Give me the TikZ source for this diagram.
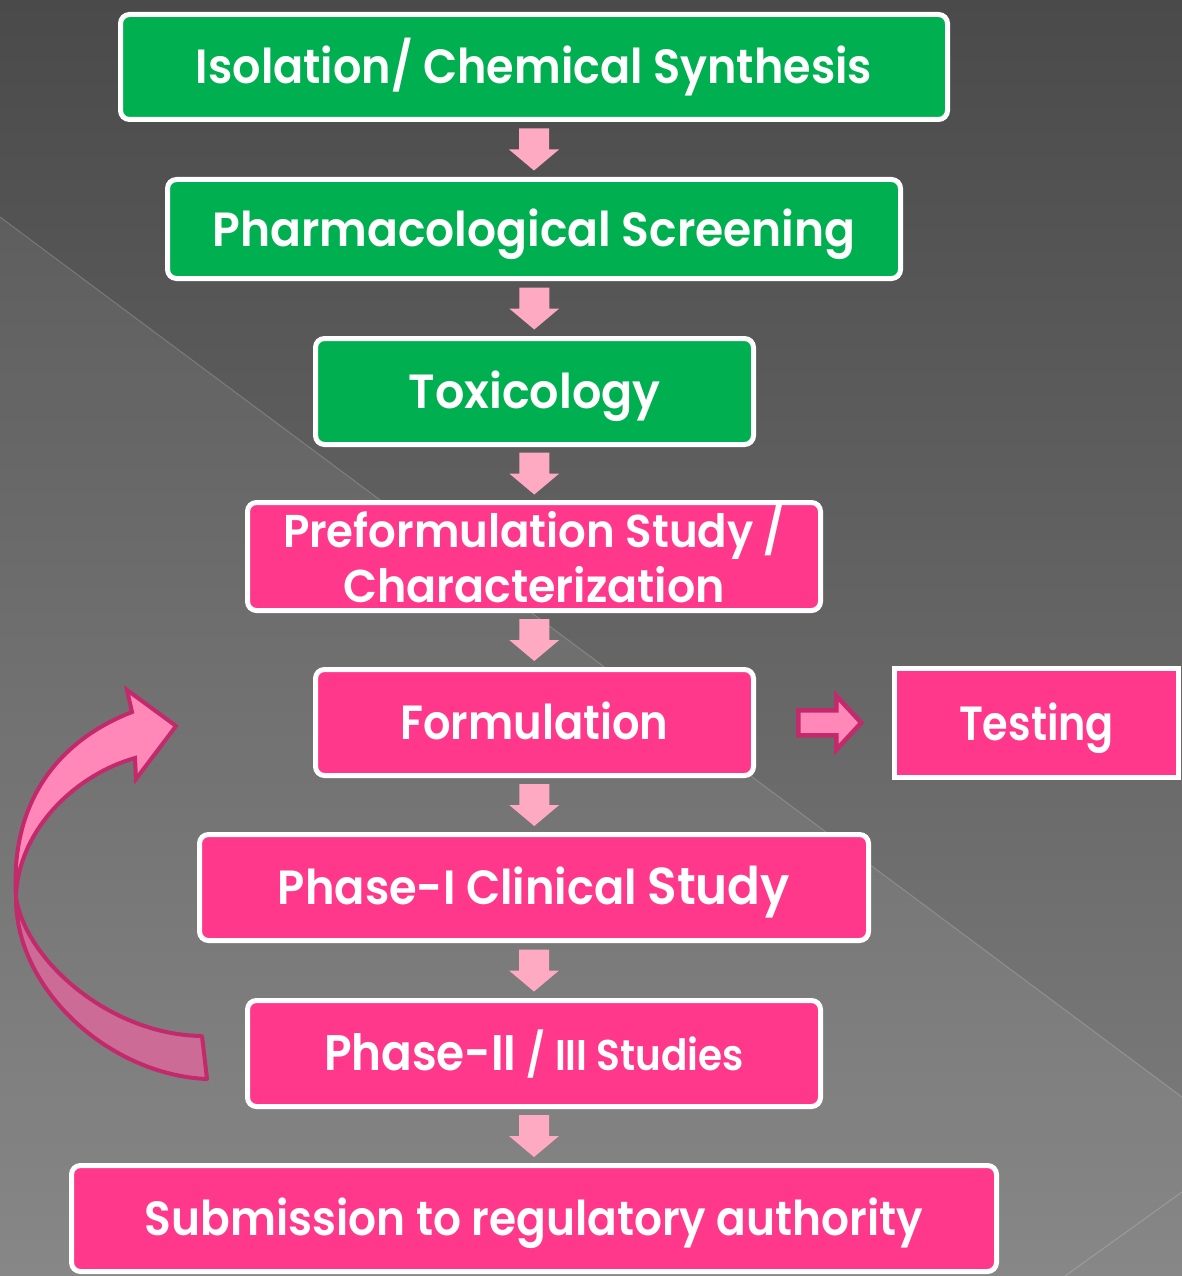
\documentclass[tikz,border=0pt]{standalone}
\usepackage{fontspec}
\setmainfont{Poppins}[BoldFont={Poppins SemiBold}]
\usepackage{graphicx}
\usetikzlibrary{calc}
\definecolor{boxgreen}{HTML}{00AF50}
\definecolor{boxpink}{HTML}{FF388B}
\definecolor{arrowpink}{HTML}{FFAAC3}
\definecolor{curvepink}{HTML}{FF88B8}
\definecolor{curvedark}{HTML}{CC6C96}
\definecolor{curveedge}{HTML}{C22A6C}
\definecolor{bgtop}{HTML}{4A4A4A}
\definecolor{bgbot}{HTML}{7F7F7F}
\newcommand\fitw[2]{\resizebox{#1pt}{\height}{#2}}
\begin{document}
\begin{tikzpicture}[x=1pt,y=-1pt,
  stagefont/.style={font=\fontsize{48}{56}\selectfont\bfseries},
  stage/.style={draw=white, line width=5pt, rounded corners=9pt, text=white,
    stagefont, text height=34pt, text depth=0pt, inner sep=0pt},
  greenbox/.style={stage, fill=boxgreen},
  pinkbox/.style={stage, fill=boxpink},
  linetext/.style={text=white, font=\fontsize{46}{54}\selectfont\bfseries,
    text height=32pt, text depth=0pt, inner sep=0pt},
  downarr/.pic={\fill[arrowpink] (-15,-21) -- (15,-21) -- (15,0) -- (25,0) -- (0,21) -- (-25,0) -- (-15,0) -- cycle;},
  rightarr/.pic={\draw[fill=curvepink, draw=curveedge, line width=4.5pt, miter limit=10]
     (-32,-12.5) -- (6,-12.5) -- (6,-27) -- (31,0) -- (6,27) -- (6,12.5) -- (-32,12.5) -- cycle;},
  bgline/.style={draw=white, draw opacity=0.18, line width=1pt}
]
\useasboundingbox (0,0) rectangle (1182,1276);
% background
\shade[top color=bgtop, bottom color=bgbot] (0,0) rectangle (1182,1276);
\fill[white, opacity=0.065] (0,217) -- (1182,1097) -- (1182,1276) -- (0,1276) -- cycle;
\draw[bgline] (0,217) -- (1182,1097);
\draw[bgline] (1182,1192) -- (1065,1276);

% stages
\node[greenbox, minimum width=827pt, minimum height=105pt] (iso) at (534,67)
  {\fitw{676}{Isolation/ Chemical Synthesis}};
\node[greenbox, minimum width=733pt, minimum height=99pt] (pharm) at (534,229)
  {\fitw{643}{Pharmacological Screening}};
\node[greenbox, minimum width=438pt, minimum height=106pt] (tox) at (534.5,391.5)
  {\fitw{252}{Toxicology}};
\node[pinkbox, minimum width=573pt, minimum height=108pt] (pre) at (534,556.5) {};
\node[linetext] (pre1) at (534,531) {\fitw{502}{Preformulation Study /}};
\node[linetext] (pre2) at (534,586) {\fitw{382}{Characterization}};
\node[pinkbox, minimum width=438pt, minimum height=106pt] (form) at (534.5,722.5)
  {\fitw{268}{Formulation}};
\node[pinkbox, sharp corners, minimum width=284pt, minimum height=109pt] (test) at (1036.5,723)
  {\fitw{155}{Testing}};
\node[pinkbox, minimum width=669pt, minimum height=106pt] (ph1) at (534,887.5)
  {\fitw{512}{Phase-I Clinical {\fontsize{52}{60}\selectfont Study}}};
\node[pinkbox, minimum width=573pt, minimum height=106pt] (ph2) at (534,1053.5)
  {\fitw{420}{{\fontsize{50}{58}\selectfont Phase-II} {\fontsize{43}{50}\selectfont / III Studies}}};
\node[pinkbox, minimum width=925pt, minimum height=106pt] (sub) at (534,1218.5)
  {\fitw{778}{Submission to regulatory authority}};

% down arrows
\foreach \a/\b in {iso/pharm, pharm/tox, tox/pre, pre/form, form/ph1, ph1/ph2, ph2/sub}
  \pic at ($(\a.south)!0.5!(\b.north)$) {downarr};

% arrow to testing
\coordinate (ra) at ($(form.east)!0.546!(test.west)$);
\pic at (ra) {rightarr};

% curved feedback arrow
\draw[fill=curvedark, draw=curveedge, line width=4pt, line join=round]
  (16,897) .. controls (25,960) and (110,1035) .. (202,1036)
  -- (207,1079) .. controls (110,1075) and (15,990) .. (16,897) -- cycle;
\draw[fill=curvepink, draw=curveedge, line width=4pt, line join=miter]
  (16,897) .. controls (10,800) and (60,740) .. (132,712)
  -- (127,690) -- (176,726) -- (136,779) -- (135,758)
  .. controls (75,775) and (18,830) .. (16,897) -- cycle;
\end{tikzpicture}
\end{document}
